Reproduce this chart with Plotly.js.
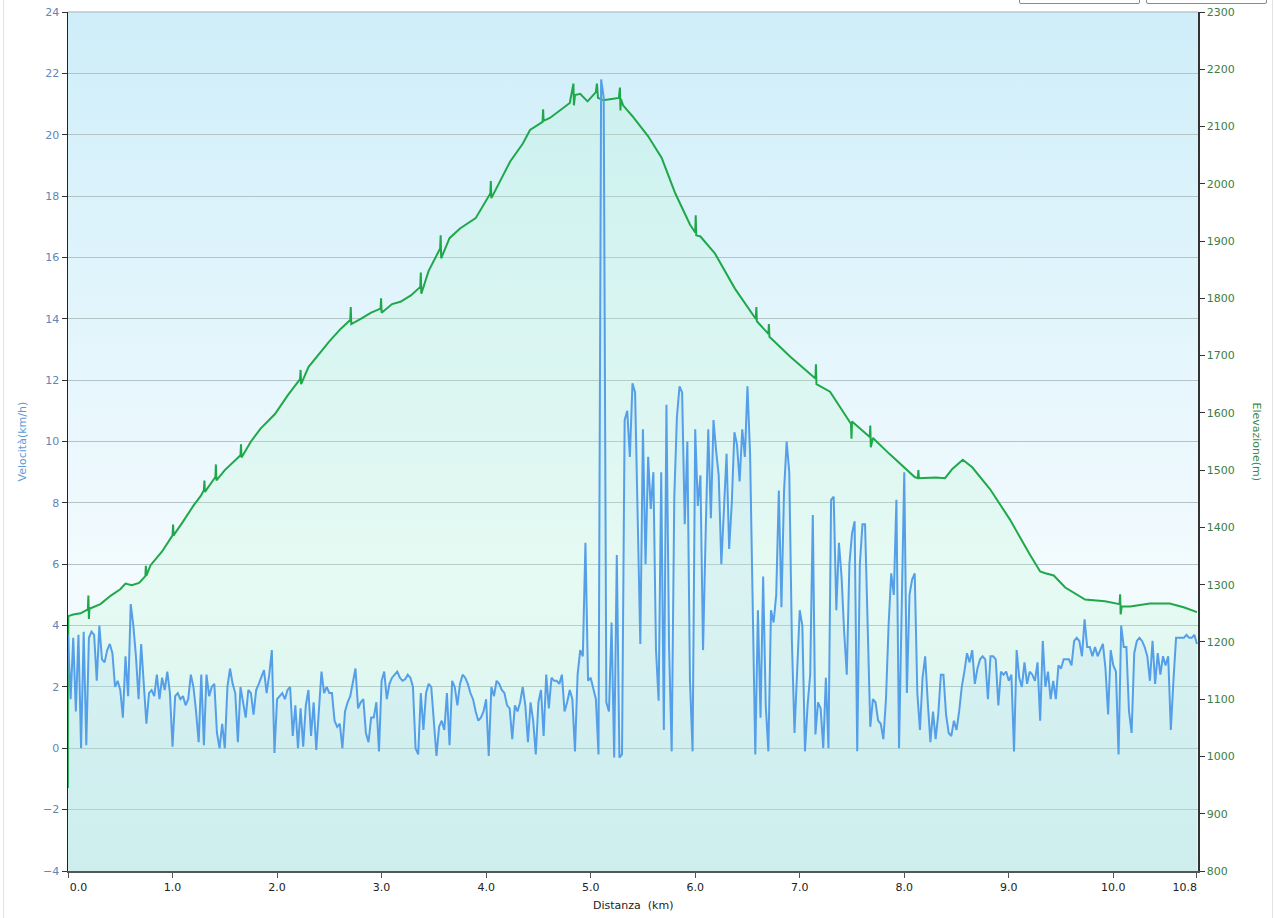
<!DOCTYPE html>
<html>
<head>
<meta charset="utf-8">
<script src="https://cdn.plot.ly/plotly-3.0.1.min.js"></script>
<style>
  html, body { margin: 0; padding: 0; background: #ffffff; }
  #wrap { position: relative; width: 1274px; height: 918px; overflow: hidden; }
  #chart { position: absolute; left: 0; top: 0; width: 1274px; height: 918px; }
  .btn { position: absolute; top: -12px; height: 14px; width: 119px; border: 1px solid #8a8a8a; background: #ffffff; border-radius: 2px; }
  .edge { position: absolute; top: 0; width: 1px; height: 918px; background: #e3e3e3; }
</style>
</head>
<body>
<div id="wrap">
  <div id="chart"></div>
  <div class="btn" style="left:1019px"></div>
  <div class="btn" style="left:1146px"></div>
  <div class="edge" style="left:3px"></div>
  <div class="edge" style="left:1272px"></div>
</div>
<script>
// ---------------- DATA ----------------
// Velocity (km/h), sampled every VEL_STEP_KM km from 0.0 to 10.8 km
const VEL_STEP_KM = 0.025;
const velocity = [
  // 0.0 - 0.975
  3.7,1.6,3.6,1.2,3.7,0.0,3.8,0.1,3.6,3.8,
  3.7,2.2,4.0,2.9,2.8,3.2,3.4,3.1,2.0,2.2,
  1.9,1.0,3.0,1.7,4.7,4.0,3.0,1.6,3.4,2.0,
  0.8,1.8,1.9,1.7,2.4,1.6,2.3,1.9,2.5,1.8,
  // 1.0 - 1.975
  0.05,1.7,1.8,1.6,1.7,1.4,1.6,2.4,2.0,1.2,
  0.2,2.4,0.1,2.4,1.7,2.0,2.1,0.5,0.0,0.8,
  0.0,2.0,2.6,2.1,1.8,0.2,2.0,1.5,1.0,1.9,
  1.8,1.1,1.9,2.1,2.3,2.55,1.8,2.4,3.2,-0.15,
  // 2.0 - 2.975
  1.6,1.7,1.8,1.6,1.9,2.0,0.4,1.4,0.0,1.3,
  0.05,1.4,1.9,0.4,1.5,-0.05,1.2,2.5,1.8,2.0,
  1.8,1.8,0.9,0.7,0.8,0.0,1.2,1.5,1.7,2.2,
  2.6,1.3,1.5,1.6,0.5,0.2,1.0,1.0,1.5,-0.1,
  // 3.0 - 3.975
  2.2,2.5,1.6,2.1,2.3,2.4,2.5,2.3,2.2,2.25,
  2.4,2.3,2.0,0.0,-0.2,1.8,0.6,1.8,2.1,2.0,
  0.9,-0.25,0.7,0.9,0.6,1.8,0.1,2.2,2.0,1.4,
  2.1,2.4,2.3,2.1,1.8,1.6,1.2,0.9,1.0,1.2,
  // 4.0 - 4.975
  1.6,-0.25,2.0,1.7,2.2,2.1,1.9,1.8,1.4,1.3,
  0.3,1.4,1.2,1.5,2.0,1.4,0.2,1.5,0.9,-0.2,
  1.5,1.9,0.4,2.4,1.3,2.3,2.2,2.2,2.1,2.4,
  1.2,1.5,1.9,1.6,-0.1,2.4,3.2,3.0,6.7,2.2,
  // 5.0 - 5.975
  2.3,1.9,1.6,-0.2,21.8,21.2,1.5,1.2,4.1,-0.3,
  6.3,-0.3,-0.2,10.7,11.0,9.5,11.9,11.6,7.0,3.4,
  10.4,6.0,9.5,7.8,9.0,3.2,1.55,9.0,0.6,11.2,
  3.3,-0.1,8.2,10.8,11.8,11.6,7.3,10.0,2.2,-0.1,
  // 6.0 - 6.975
  10.4,7.9,8.9,3.2,7.0,10.4,7.5,10.7,9.7,8.9,
  6.0,7.9,9.6,6.5,8.0,10.3,9.9,8.7,10.4,9.5,
  11.8,9.6,4.7,-0.2,4.5,1.0,5.6,1.4,-0.1,4.5,
  4.1,5.0,8.4,4.6,8.4,10.0,9.0,3.5,0.5,2.7,
  // 7.0 - 7.975
  4.5,4.0,-0.1,1.4,2.4,7.6,0.45,1.5,1.3,0.0,
  2.3,0.0,8.1,8.2,4.5,6.7,5.6,3.8,2.4,6.0,
  7.0,7.4,-0.1,6.0,7.3,7.3,4.4,0.7,1.6,1.5,
  0.9,0.8,0.3,1.6,4.0,5.7,5.0,8.1,0.0,5.0,
  // 8.0 - 8.975
  9.0,1.8,5.0,5.5,5.7,1.8,0.6,2.3,3.0,1.5,
  0.2,1.2,0.3,1.1,2.4,2.4,1.1,0.5,0.4,0.9,
  0.6,1.2,2.0,2.5,3.1,2.8,3.2,2.1,2.6,2.9,
  3.0,2.9,1.6,3.0,3.0,2.9,1.4,2.5,2.4,2.5,
  // 9.0 - 9.975
  2.2,2.4,-0.1,3.2,2.3,2.0,2.8,2.1,2.5,2.4,
  2.2,2.8,0.9,3.5,2.0,2.5,1.6,2.2,1.6,2.7,
  2.6,2.9,2.9,2.9,2.7,3.5,3.6,3.5,3.0,4.2,
  3.3,3.3,3.0,3.3,3.0,3.2,3.4,2.6,1.1,3.2,
  // 10.0 - 10.8
  2.7,2.5,-0.2,4.0,3.3,3.3,1.2,0.5,3.1,3.5,
  3.6,3.5,3.3,3.0,2.2,3.5,2.1,3.1,2.4,3.0,
  2.7,3.0,0.6,2.2,3.6,3.6,3.6,3.6,3.7,3.6,
  3.6,3.7,3.4
];
const velDistance = velocity.map((_, i) => +(i * VEL_STEP_KM).toFixed(3));

// Elevation (m) against distance (km)
const elevDistance = [
  0.000,0.003,0.05,0.12,0.19,0.195,0.20,0.205,0.31,0.41,
  0.50,0.55,0.61,0.68,0.74,0.745,0.75,0.79,0.90,1.00,
  1.005,1.01,1.10,1.20,1.27,1.30,1.305,1.31,1.41,1.415,
  1.42,1.50,1.65,1.655,1.66,1.75,1.84,1.98,2.10,2.22,
  2.225,2.23,2.30,2.42,2.50,2.61,2.70,2.705,2.71,2.80,
  2.90,2.99,2.995,3.00,3.10,3.18,3.28,3.37,3.375,3.38,
  3.45,3.56,3.565,3.57,3.65,3.75,3.90,4.04,4.045,4.05,
  4.23,4.35,4.42,4.54,4.545,4.55,4.61,4.80,4.835,4.84,
  4.85,4.90,4.97,5.05,5.06,5.07,5.12,5.20,5.27,5.28,
  5.285,5.29,5.31,5.40,5.55,5.68,5.81,5.95,6.00,6.005,
  6.01,6.05,6.19,6.38,6.58,6.585,6.59,6.70,6.705,6.71,
  6.91,7.10,7.15,7.155,7.16,7.29,7.49,7.495,7.50,7.67,
  7.675,7.68,7.70,7.86,8.01,8.10,8.13,8.135,8.14,8.30,
  8.39,8.46,8.56,8.65,8.82,9.01,9.20,9.30,9.35,9.43,
  9.54,9.73,9.92,10.06,10.065,10.07,10.08,10.16,10.35,10.54,
  10.68,10.80
];
const elevation = [
  945,1245,1248,1250,1257,1281,1240,1258,1266,1281,
  1292,1302,1299,1303,1315,1333,1316,1334,1358,1386,
  1405,1386,1410,1438,1455,1465,1482,1462,1488,1510,
  1482,1500,1526,1545,1522,1550,1572,1598,1630,1659,
  1675,1650,1680,1707,1725,1747,1762,1785,1755,1764,
  1775,1782,1800,1775,1790,1794,1805,1820,1845,1808,
  1848,1887,1910,1870,1905,1922,1940,1983,2005,1975,
  2039,2070,2094,2108,2130,2110,2115,2141,2175,2137,
  2155,2157,2144,2160,2175,2150,2146,2148,2150,2168,
  2128,2148,2137,2118,2083,2045,1983,1929,1915,1945,
  1910,1908,1878,1817,1764,1785,1760,1738,1755,1733,
  1698,1668,1660,1685,1650,1637,1581,1555,1585,1558,
  1578,1540,1556,1528,1502,1488,1486,1500,1486,1487,
  1486,1502,1518,1505,1467,1414,1353,1323,1320,1316,
  1295,1274,1271,1266,1283,1248,1262,1262,1267,1267,
  1260,1252
];

// Axes
const xTickVals = [0,1,2,3,4,5,6,7,8,9,10,10.8];
const xTickLabels = ['0.0','1.0','2.0','3.0','4.0','5.0','6.0','7.0','8.0','9.0','10.0','10.8'];
const X_RANGE = [0, 10.81];
const VEL_RANGE = [-4, 24];
const ELEV_RANGE = [800, 2300];

// ---------------- STYLE ----------------
const NB = '\u00a0';
const xTickText = xTickLabels.map((t, i) =>
  i === 0 ? NB.repeat(6) + t : (i === xTickLabels.length - 1 ? t + NB.repeat(7) : t));

const bgSvg = "<svg xmlns='http://www.w3.org/2000/svg' width='100' height='100' preserveAspectRatio='none'>" +
  "<defs><linearGradient id='g' x1='0' y1='0' x2='0' y2='1'>" +
  "<stop offset='0' stop-color='#cfeef9'/>" +
  "<stop offset='0.66' stop-color='#f3fbfe'/>" +
  "<stop offset='1' stop-color='#e0f4f8'/>" +
  "</linearGradient></defs><rect width='100' height='100' fill='url(#g)'/></svg>";
const bgUri = 'data:image/svg+xml;charset=utf-8,' + encodeURIComponent(bgSvg);

const font = 'DejaVu Sans, Verdana, sans-serif';

const traces = [
  { // elevation area + line (main y axis, right side)
    x: elevDistance, y: elevation, xaxis: 'x', yaxis: 'y',
    type: 'scatter', mode: 'lines', fill: 'tozeroy',
    fillcolor: 'rgba(180,244,205,0.22)',
    line: { color: '#1fa84a', width: 2 },
    hoverinfo: 'skip', showlegend: false
  },
  { // velocity area down to the axis bottom
    x: velDistance.concat([velDistance[velDistance.length - 1], velDistance[0]]),
    y: velocity.concat([VEL_RANGE[0], VEL_RANGE[0]]),
    xaxis: 'x', yaxis: 'y2', type: 'scatter', mode: 'lines', fill: 'toself',
    fillcolor: 'rgba(170,215,238,0.2)', line: { width: 0 },
    hoverinfo: 'skip', showlegend: false
  },
  { // velocity line
    x: velDistance, y: velocity, xaxis: 'x', yaxis: 'y2',
    type: 'scatter', mode: 'lines',
    line: { color: '#559fe8', width: 2 },
    hoverinfo: 'skip', showlegend: false
  }
];

const layout = {
  width: 1274, height: 918,
  margin: { l: 68, r: 76, t: 12, b: 47, pad: 0 },
  paper_bgcolor: 'rgba(0,0,0,0)',
  plot_bgcolor: 'rgba(0,0,0,0)',
  showlegend: false,
  font: { family: font, size: 11, color: '#222' },
  xaxis: {
    range: X_RANGE, tickvals: xTickVals, ticktext: xTickText,
    showgrid: false, zeroline: false,
    showline: true, linecolor: '#555', linewidth: 2,
    ticks: 'outside', ticklen: 5, tickcolor: '#555', tickwidth: 1,
    tickfont: { family: font, size: 11, color: '#222' }
  },
  yaxis: { // elevation, right
    range: ELEV_RANGE, dtick: 100, tick0: 800, side: 'right',
    showgrid: false, zeroline: false,
    showline: true, linecolor: '#333', linewidth: 1.5,
    ticks: 'outside', ticklen: 5, tickcolor: '#333',
    tickfont: { family: font, size: 11, color: '#3b7d47' }
  },
  yaxis2: { // velocity, left
    range: VEL_RANGE, dtick: 2, tick0: 0, side: 'left', overlaying: 'y',
    showgrid: true, gridcolor: '#b3c4c7', gridwidth: 1, zeroline: false,
    showline: true, linecolor: '#222', linewidth: 1.5,
    ticks: 'outside', ticklen: 5, tickcolor: '#333',
    tickfont: { family: font, size: 11, color: '#5f86b6' }
  },
  images: [{
    source: bgUri, xref: 'paper', yref: 'paper', x: 0, y: 1,
    sizex: 1, sizey: 1, xanchor: 'left', yanchor: 'top',
    sizing: 'stretch', layer: 'below'
  }],
  shapes: [{
    type: 'line', xref: 'paper', yref: 'paper', x0: 0, x1: 1, y0: 1, y1: 1,
    line: { color: '#b9c7cd', width: 1.5 }
  }],
  annotations: [
    { text: 'Velocità(km/h)', xref: 'paper', yref: 'paper', x: 0, y: 0.5,
      xanchor: 'center', yanchor: 'middle', xshift: -46, textangle: -90,
      showarrow: false, font: { family: font, size: 11, color: '#5b9bd5' } },
    { text: 'Elevazione(m)', xref: 'paper', yref: 'paper', x: 1, y: 0.5,
      xanchor: 'center', yanchor: 'middle', xshift: 58, textangle: 90,
      showarrow: false, font: { family: font, size: 11, color: '#3a8a50' } },
    { text: 'Distanza' + NB + NB + '(km)', xref: 'paper', yref: 'paper', x: 0.5, y: 0,
      xanchor: 'center', yanchor: 'middle', yshift: -34,
      showarrow: false, font: { family: font, size: 11, color: '#222' } }
  ]
};

Plotly.newPlot('chart', traces, layout, { staticPlot: true, displayModeBar: false });
</script>
</body>
</html>
